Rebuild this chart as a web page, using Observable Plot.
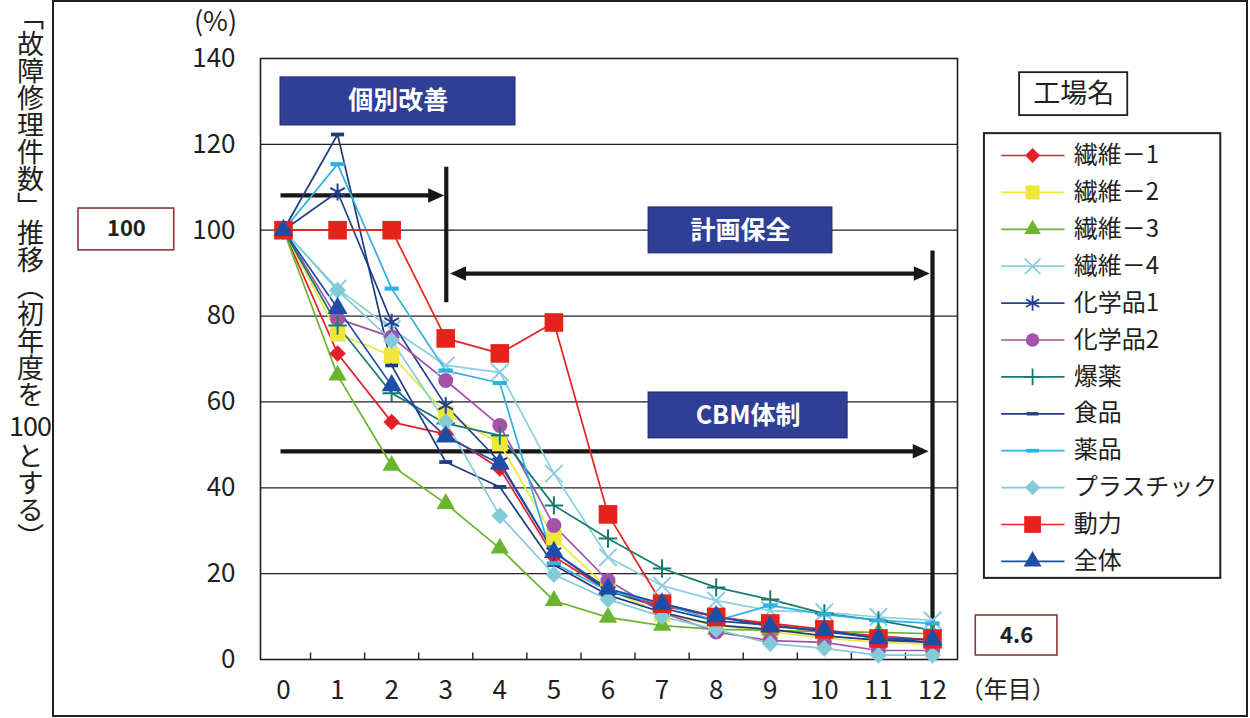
<!DOCTYPE html>
<html><head><meta charset="utf-8">
<script src="https://cdn.jsdelivr.net/npm/d3@7"></script>
<script src="https://cdn.jsdelivr.net/npm/@observablehq/plot@0.6"></script>
<style>
body{margin:0;background:#fff;font-family:"Noto Sans CJK JP",sans-serif;}
#wrap{position:relative;width:1250px;height:718px;overflow:hidden;}
#outer{position:absolute;left:52px;top:0;width:1196px;height:717px;border:2px solid #231f20;box-sizing:border-box;}
#ylab{position:absolute;left:9px;top:3px;writing-mode:vertical-rl;text-orientation:mixed;font-size:27px;line-height:30px;color:#231f20;font-family:"Noto Sans CJK JP",sans-serif;}
#ylab .hz{writing-mode:horizontal-tb;display:inline-block;font-size:27px;line-height:30px;letter-spacing:-1px;margin:2px 0;}
#chart{position:absolute;left:0;top:0;}
</style></head>
<body>
<div id="wrap">
  <div id="outer"></div>
  <div id="ylab">「故障修理件数」推移（初年度を<span class="hz">100</span>とする）</div>
  <div id="chart"></div>
</div>
<script>
// ---- data ----
const years = [0,1,2,3,4,5,6,7,8,9,10,11,12];
const plantNames = ["繊維－1","繊維－2","繊維－3","繊維－4","化学品1","化学品2","爆薬","食品","薬品","プラスチック","動力","全体"];
const sen1  = [100, 71.3, 55.3, 52.5, 44.5, 24.0, 16.0, 12.5, 10.0, 8.0, 6.5, 5.5, 4.5];
const sen2  = [100, 75.9, 70.8, 57.3, 50.3, 28.4, 16.5, 10.5, 8.0, 6.5, 5.0, 4.0, 3.5];
const sen3  = [100, 66.2, 45.2, 36.3, 25.9, 13.7, 9.8, 7.9, 7.0, 6.8, 6.5, 6.3, 6.0];
const sen4  = [100, 86.4, 77.0, 68.5, 66.9, 43.3, 23.8, 17.2, 13.7, 11.4, 11.0, 9.9, 9.1];
const chem1 = [100, 108.9, 78.6, 59.2, 46.0, 25.0, 16.0, 12.0, 9.0, 8.0, 6.5, 5.0, 4.0];
const chem2 = [100, 79.4, 75.1, 65.0, 54.5, 31.2, 18.4, 11.0, 6.4, 4.4, 4.0, 2.1, 2.1];
const expl  = [100, 77.8, 62.0, 55.0, 52.2, 35.9, 28.2, 21.2, 16.8, 14.0, 10.7, 9.1, 6.8];
const food  = [100, 122.3, 68.5, 46.0, 40.2, 22.0, 15.0, 11.0, 8.0, 7.0, 5.5, 4.5, 4.0];
const pharm = [100, 115.4, 86.4, 67.3, 64.4, 22.4, 16.0, 13.0, 9.0, 12.6, 10.5, 9.1, 8.4];
const plast = [100, 86.0, 74.3, 55.3, 33.5, 19.8, 14.0, 10.0, 7.0, 3.7, 2.6, 1.0, 1.0];
const power = [100, 100, 100, 74.8, 71.3, 78.5, 33.8, 13.0, 9.9, 8.4, 7.0, 4.9, 4.7];
const total = [100, 81.8, 63.8, 51.9, 45.6, 25.0, 16.5, 13.0, 10.0, 7.7, 6.8, 4.9, 4.6];
const seriesValues = [sen1, sen2, sen3, sen4, chem1, chem2, expl, food, pharm, plast, power, total];
const yTicks = [0,20,40,60,80,100,120,140];
const gridValues = [20,40,60,80,100,120];
const phaseLabels = ["個別改善","計画保全","CBM体制"];
const legendTitle = "工場名";
const startLabel = "100";
const endLabel = "4.6";

// ---- custom symbols ----
const sym = {
  rdiamond:{draw(c,s){const r=Math.sqrt(s/Math.PI),h=1.25*r;c.moveTo(0,-h);c.lineTo(h,0);c.lineTo(0,h);c.lineTo(-h,0);c.closePath();}},
  dash:{draw(c,s){const r=Math.sqrt(s/Math.PI),w=2.6*r,t=0.75*r;c.rect(-w/2,-t/2,w,t);}},
  head:{draw(c,s){const r=Math.sqrt(s/Math.PI),L=2*r,Wd=1.8*r;c.moveTo(0,0);c.lineTo(-L,-Wd/2);c.lineTo(-L,Wd/2);c.closePath();}}
};
const styles = [
  {color:"#e3202a", symbol:sym.rdiamond, r:6.6, filled:true},
  {color:"#efe63a", symbol:"square", r:8.8, filled:true},
  {color:"#6bb52e", symbol:"triangle", r:6.8, filled:true},
  {color:"#8bcfe2", symbol:"times", r:8, filled:false},
  {color:"#233f8f", symbol:"asterisk", r:8, filled:false},
  {color:"#a352a8", symbol:"circle", r:7.5, filled:true},
  {color:"#177a6e", symbol:"plus", r:6, filled:false},
  {color:"#1f3c7e", symbol:sym.dash, r:5, filled:true},
  {color:"#2fb1e1", symbol:sym.dash, r:5.5, filled:true},
  {color:"#84cad8", symbol:sym.rdiamond, r:6.8, filled:true},
  {color:"#e4231d", symbol:"square", r:10.5, filled:true},
  {color:"#1c4ea7", symbol:"triangle", r:7.4, filled:true}
];

const rows = [];
plantNames.forEach((n,i)=>seriesValues[i].forEach((v,j)=>rows.push({name:n, year:years[j], value:v})));

const ink = "#231f20";
const marks = [];
// grid + frame
marks.push(Plot.ruleY(gridValues, {stroke:ink, strokeWidth:1.2}));
marks.push(Plot.frame({stroke:ink, strokeWidth:1.6}));
marks.push(Plot.ruleX(years.slice(0,12).map(d=>d+0.5), {y1:0, y2:1.5, stroke:ink, strokeWidth:1.4}));
marks.push(Plot.axisY({ticks:yTicks, tickSize:0, tickPadding:25, fontSize:26, label:null, fill:ink}));
marks.push(Plot.axisX({ticks:years, tickSize:0, tickPadding:21, fontSize:26, label:null, fill:ink, tickFormat:d=>String(d)}));
marks.push(Plot.text(["(%)"], {x:-1.257, y:148.4, fontSize:27, fill:ink, text:d=>d}));
marks.push(Plot.text(["（年目）"], {x:13.39, y:-7.2, fontSize:24, fill:ink, text:d=>d}));

// phase boxes
const boxFill = "#2e3f95";
const phaseBoxes = [
  {x1:-0.055, x2:4.29, y1:124.4, y2:135.6, tx:2.12, ty:130.0},
  {x1:6.75, x2:10.15, y1:94.6, y2:105.3, tx:8.45, ty:99.9},
  {x1:6.75, x2:10.43, y1:51.5, y2:62.2, tx:8.59, ty:56.8}
].map((b,i)=>({...b, label:phaseLabels[i]}));
marks.push(Plot.rect(phaseBoxes, {x1:"x1", x2:"x2", y1:"y1", y2:"y2", fill:boxFill, stroke:"#1d2a6e", strokeWidth:1}));
marks.push(Plot.text(phaseBoxes, {x:"tx", y:"ty", text:"label", fill:"white", fontSize:25, fontWeight:"bold"}));

// arrows
const arrowInk = "#1a1718";
const shafts = [
  {x1:-0.055, x2:2.8, y1:108.1, y2:108.1},
  {x1:3.01, x2:3.01, y1:83.2, y2:114.8},
  {x1:3.2, x2:11.8, y1:89.9, y2:89.9},
  {x1:12.0, x2:12.0, y1:0, y2:95.3},
  {x1:-0.055, x2:11.75, y1:48.5, y2:48.5}
];
marks.push(Plot.link(shafts, {x1:"x1", x2:"x2", y1:"y1", y2:"y2", stroke:arrowInk, strokeWidth:4.2}));
marks.push(Plot.dot([{x:2.97, y:108.1},{x:11.95, y:89.9},{x:11.93, y:48.5}], {x:"x", y:"y", symbol:sym.head, r:8, fill:arrowInk, stroke:"none"}));
marks.push(Plot.dot([{x:3.08, y:89.9}], {x:"x", y:"y", symbol:sym.head, r:8, fill:arrowInk, stroke:"none", rotate:180}));

// start / end value boxes
const valueBoxes = [
  {x1:-3.79, x2:-2.02, y1:95.3, y2:105.05, tx:-2.905, ty:100.2, label:startLabel},
  {x1:12.80, x2:14.31, y1:0.93, y2:10.25, tx:13.555, ty:5.6, label:endLabel}
];
marks.push(Plot.rect(valueBoxes, {x1:"x1", x2:"x2", y1:"y1", y2:"y2", fill:"white", stroke:"#8b3636", strokeWidth:1.6}));
marks.push(Plot.text(valueBoxes, {x:"tx", y:"ty", text:"label", fill:ink, fontSize:22, fontWeight:"bold"}));

// series
plantNames.forEach((n,i)=>{
  const st = styles[i];
  const data = rows.filter(d=>d.name===n);
  marks.push(Plot.line(data, {x:"year", y:"value", stroke:st.color, strokeWidth:1.7}));
});
plantNames.forEach((n,i)=>{
  const st = styles[i];
  const data = rows.filter(d=>d.name===n);
  marks.push(Plot.dot(data, st.filled
    ? {x:"year", y:"value", symbol:st.symbol, r:st.r, fill:st.color, stroke:"none"}
    : {x:"year", y:"value", symbol:st.symbol, r:st.r, fill:"none", stroke:st.color, strokeWidth:2}));
});

// legend
marks.push(Plot.rect([{}], {x1:12.96, x2:17.33, y1:18.9, y2:122.5, fill:"white", stroke:ink, strokeWidth:2}));
marks.push(Plot.rect([{}], {x1:13.61, x2:15.61, y1:126.7, y2:136.7, fill:"white", stroke:ink, strokeWidth:1.8}));
marks.push(Plot.text([legendTitle], {x:14.61, y:131.6, text:d=>d, fontSize:27, fill:ink}));
const legendRows = plantNames.map((n,i)=>({name:n, i, y:117.4 - 8.595*i}));
marks.push(Plot.link(legendRows, {x1:13.27, x2:14.44, y1:"y", y2:"y", stroke:d=>styles[d.i].color, strokeWidth:1.7}));
legendRows.forEach(d=>{
  const st = styles[d.i];
  marks.push(Plot.dot([d], st.filled
    ? {x:13.85, y:"y", symbol:st.symbol, r:st.r*0.9, fill:st.color, stroke:"none"}
    : {x:13.85, y:"y", symbol:st.symbol, r:st.r*0.9, fill:"none", stroke:st.color, strokeWidth:1.8}));
});
marks.push(Plot.text(legendRows, {x:14.61, y:"y", text:"name", textAnchor:"start", fontSize:24, fill:ink}));

const chart = Plot.plot({
  width:1250, height:718,
  marginLeft:260, marginRight:293, marginTop:58, marginBottom:59,
  x:{type:"linear", domain:[-0.425, 12.462]},
  y:{domain:[0,140]},
  style:{fontFamily:'"Noto Sans CJK JP", sans-serif', background:"transparent", overflow:"visible"},
  marks
});
document.getElementById("chart").appendChild(chart);
</script>
</body></html>
